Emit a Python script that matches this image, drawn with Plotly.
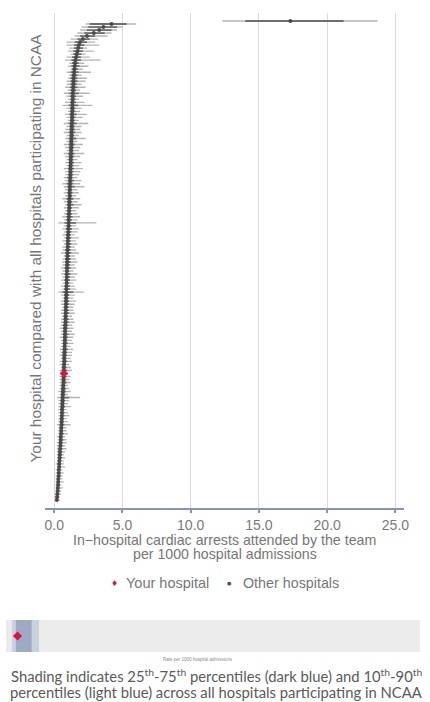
import plotly.graph_objects as go

# ---------------- data ----------------
# hospitals sorted from highest to lowest rate (top to bottom)
rate = [17.3, 4.2, 3.6, 3.3, 2.9, 2.4, 2.1, 1.9, 1.8,
        1.75, 1.70, 1.65, 1.60, 1.55, 1.52, 1.50, 1.48, 1.46, 1.44, 1.42, 1.41,
        1.40, 1.39, 1.38, 1.37, 1.36, 1.35, 1.34, 1.34, 1.33, 1.32, 1.31, 1.31, 1.30, 1.29, 1.29,
        1.28, 1.27, 1.27, 1.26, 1.25, 1.25, 1.24, 1.23, 1.23, 1.22, 1.21, 1.21, 1.20, 1.19, 1.19,
        1.18, 1.17, 1.16, 1.16, 1.15, 1.14, 1.13, 1.13, 1.12, 1.11, 1.10, 1.10, 1.09, 1.08, 1.07,
        1.06, 1.06, 1.05, 1.04, 1.03, 1.02, 1.01, 1.00, 0.99, 0.99, 0.98, 0.97, 0.96, 0.96, 0.95,
        0.94, 0.94, 0.93, 0.92, 0.92, 0.91, 0.91, 0.90, 0.89, 0.89, 0.88, 0.87, 0.87, 0.86, 0.85,
        0.85, 0.84, 0.83, 0.83, 0.82, 0.81, 0.80, 0.80, 0.79, 0.78, 0.78, 0.77, 0.76, 0.76, 0.75,
        0.74, 0.73, 0.73, 0.72, 0.71, 0.70, 0.70, 0.69, 0.68, 0.67, 0.66, 0.65, 0.64, 0.63, 0.62,
        0.61, 0.60, 0.59, 0.58, 0.57, 0.56, 0.55, 0.54, 0.53, 0.52, 0.51, 0.50, 0.48, 0.47, 0.46,
        0.45, 0.43, 0.42, 0.41, 0.40, 0.38, 0.37, 0.36, 0.34, 0.33, 0.32, 0.30, 0.29, 0.28, 0.26,
        0.25, 0.23, 0.21, 0.19]

# outer (light) interval
ci_low = [12.3, 2.3, 2.0, 1.9, 1.7, 1.5, 1.2, 0.9, 0.9,
          1.1, 1.0, 1.2, 0.9, 0.8, 1.1, 1.0, 1.2, 0.9, 1.1, 1.0, 0.9,
          0.9, 0.8, 1.0, 0.7, 0.9, 1.0, 0.8, 0.6, 0.9, 1.0, 0.8, 0.9, 1.0, 0.7, 0.9,
          0.8, 0.7, 0.9, 0.8, 0.9, 0.7, 0.8, 0.9, 0.7, 0.8, 0.9, 0.8, 0.9, 0.7, 0.8,
          0.8, 0.7, 0.8, 0.6, 0.7, 0.8, 0.7, 0.8, 0.6, 0.7, 0.8, 0.7, 0.8, 0.7, 0.6,
          0.7, 0.3, 0.7, 0.6, 0.7, 0.6, 0.7, 0.6, 0.7, 0.6, 0.6, 0.5, 0.7, 0.6, 0.6,
          0.6, 0.5, 0.6, 0.5, 0.6, 0.5, 0.6, 0.5, 0.6, 0.3, 0.5, 0.6, 0.5, 0.5, 0.6,
          0.5, 0.5, 0.6, 0.5, 0.5, 0.5, 0.4, 0.5, 0.5, 0.4, 0.5, 0.5, 0.5, 0.4, 0.5,
          0.4, 0.5, 0.4, 0.4, 0.5, 0.4, 0.45, 0.4, 0.4, 0.4, 0.4, 0.4, 0.3, 0.4, 0.2,
          0.3, 0.3, 0.3, 0.3, 0.3, 0.3, 0.3, 0.3, 0.2, 0.3, 0.3, 0.3, 0.2, 0.3, 0.2,
          0.2, 0.2, 0.2, 0.2, 0.2, 0.2, 0.1, 0.2, 0.1, 0.1, 0.1, 0.1, 0.1, 0.1, 0.1,
          0.1, 0.05, 0.05, 0.05]
ci_high = [23.7, 6.0, 5.0, 4.6, 4.2, 3.9, 3.2, 3.0, 3.3,
           2.4, 2.9, 2.3, 2.6, 3.4, 2.2, 2.5, 2.1, 2.7, 2.0, 2.4, 2.3,
           2.0, 2.3, 1.9, 2.6, 2.1, 1.8, 2.2, 2.8, 2.0, 1.9, 2.4, 2.1, 1.8, 2.5, 2.0,
           1.9, 2.0, 1.8, 2.3, 1.7, 2.1, 1.9, 1.8, 2.2, 1.9, 1.7, 2.0, 1.8, 2.1, 1.9,
           1.8, 1.7, 2.0, 1.9, 2.2, 1.7, 1.8, 1.6, 1.9, 1.7, 2.0, 1.8, 1.6, 1.7, 1.9,
           1.7, 3.1, 1.6, 1.8, 1.7, 1.5, 1.8, 1.6, 1.7, 1.5, 1.6, 1.8, 1.5, 1.6, 1.7,
           1.5, 1.6, 1.4, 1.7, 1.5, 1.6, 1.4, 1.5, 1.6, 2.2, 1.5, 1.4, 1.6, 1.5, 1.4,
           1.4, 1.5, 1.3, 1.4, 1.5, 1.3, 1.4, 1.3, 1.5, 1.4, 1.3, 1.4, 1.2, 1.4, 1.3,
           1.3, 1.2, 1.3, 1.1, 1.2, 1.3, 1.0, 1.2, 1.1, 1.2, 1.0, 1.1, 1.2, 1.0, 1.9,
           1.1, 1.0, 1.2, 0.9, 1.0, 1.1, 0.9, 1.0, 1.2, 0.9, 0.9, 1.0, 0.8, 0.9, 0.9,
           0.8, 0.9, 0.8, 0.7, 0.8, 0.7, 0.7, 0.8, 0.6, 0.7, 0.6, 0.6, 0.7, 0.5, 0.6,
           0.5, 0.5, 0.4, 0.4]

# inner (dark) interval
inner_low = [14.0, 2.6, 2.5, 2.4, 2.2, 1.9, 1.7, 1.5, 1.45,
             1.45, 1.4, 1.4, 1.3, 1.25, 1.3, 1.25, 1.3, 1.2, 1.25, 1.2, 1.2,
             1.2, 1.15, 1.2, 1.1, 1.15, 1.2, 1.15, 1.05, 1.15, 1.15, 1.1, 1.15, 1.15, 1.05, 1.1,
             1.1, 1.05, 1.1, 1.05, 1.1, 1.05, 1.05, 1.1, 1.0, 1.05, 1.05, 1.05, 1.05, 1.0, 1.0,
             1.0, 0.95, 1.0, 0.9, 0.95, 1.0, 0.95, 1.0, 0.9, 0.95, 0.95, 0.95, 0.95, 0.9, 0.9,
             0.9, 0.75, 0.9, 0.85, 0.9, 0.85, 0.85, 0.85, 0.85, 0.85, 0.8, 0.8, 0.85, 0.8, 0.8,
             0.8, 0.75, 0.8, 0.75, 0.8, 0.75, 0.8, 0.75, 0.75, 0.6, 0.75, 0.75, 0.7, 0.7, 0.75,
             0.7, 0.7, 0.7, 0.7, 0.7, 0.65, 0.65, 0.65, 0.65, 0.65, 0.65, 0.65, 0.65, 0.6, 0.6,
             0.6, 0.6, 0.6, 0.6, 0.6, 0.55, 0.55, 0.55, 0.55, 0.55, 0.55, 0.5, 0.5, 0.5, 0.45,
             0.45, 0.45, 0.45, 0.45, 0.45, 0.45, 0.4, 0.4, 0.4, 0.4, 0.4, 0.4, 0.35, 0.35, 0.35,
             0.35, 0.3, 0.3, 0.3, 0.3, 0.3, 0.25, 0.25, 0.25, 0.25, 0.2, 0.2, 0.2, 0.2, 0.15,
             0.15, 0.15, 0.12, 0.1]
inner_high = [21.2, 5.3, 4.6, 4.2, 3.7, 3.0, 2.6, 2.4, 2.2,
              2.1, 2.1, 2.0, 1.95, 1.95, 1.8, 1.85, 1.75, 1.8, 1.7, 1.7, 1.7,
              1.65, 1.7, 1.6, 1.8, 1.6, 1.55, 1.6, 1.75, 1.55, 1.55, 1.65, 1.55, 1.5, 1.65, 1.5,
              1.5, 1.55, 1.45, 1.6, 1.4, 1.5, 1.45, 1.4, 1.5, 1.45, 1.4, 1.45, 1.4, 1.45, 1.4,
              1.4, 1.35, 1.45, 1.4, 1.5, 1.3, 1.35, 1.3, 1.4, 1.3, 1.4, 1.3, 1.25, 1.3, 1.35,
              1.3, 1.6, 1.25, 1.3, 1.25, 1.2, 1.25, 1.2, 1.25, 1.2, 1.2, 1.25, 1.15, 1.2, 1.2,
              1.15, 1.2, 1.1, 1.2, 1.15, 1.15, 1.1, 1.15, 1.15, 1.4, 1.1, 1.05, 1.1, 1.1, 1.05,
              1.05, 1.1, 1.0, 1.05, 1.05, 1.0, 1.0, 0.95, 1.05, 1.0, 0.95, 1.0, 0.9, 1.0, 0.95,
              0.95, 0.9, 0.95, 0.85, 0.9, 0.95, 0.85, 0.9, 0.85, 0.9, 0.8, 0.85, 0.85, 0.8, 1.1,
              0.8, 0.75, 0.8, 0.7, 0.75, 0.75, 0.7, 0.7, 0.75, 0.65, 0.65, 0.7, 0.6, 0.65, 0.6,
              0.6, 0.6, 0.55, 0.55, 0.55, 0.5, 0.5, 0.5, 0.45, 0.45, 0.45, 0.4, 0.4, 0.4, 0.35,
              0.35, 0.3, 0.3, 0.28]

your_index = 117  # position of "Your hospital" in the ranking

# percentiles across all hospitals (bottom strip)
pct_10, pct_25, pct_75, pct_90 = 0.36, 0.60, 1.55, 2.00

x_tick_values = [0, 5, 10, 15, 20, 25]
x_tick_labels = ["0.0", "5.0", "10.0", "15.0", "20.0", "25.0"]

for lst in (ci_low, ci_high, inner_low, inner_high):
    assert len(lst) == len(rate)

# ---------------- figure ----------------
W, H = 430, 702
FONT = "Liberation Sans, Arial, sans-serif"
GRAY_TXT = "#767676"
RED = "#e0103c"


def px(x):
    return x / W


def py(y):
    return 1 - y / H


others = [i for i in range(len(rate)) if i != your_index]


def seg(idx, lo, hi):
    xs, ys = [], []
    for i in idx:
        xs += [lo[i], hi[i], None]
        ys += [i, i, None]
    return xs, ys


fig = go.Figure()

lx, ly = seg(others, ci_low, ci_high)
fig.add_trace(go.Scatter(x=lx, y=ly, mode="lines", line=dict(color="#b4b4b4", width=1.4),
                         hoverinfo="skip", showlegend=False))
dx, dy = seg(others, inner_low, inner_high)
fig.add_trace(go.Scatter(x=dx, y=dy, mode="lines", line=dict(color="#6e6e6e", width=1.8),
                         hoverinfo="skip", showlegend=False))
fig.add_trace(go.Scatter(x=[rate[i] for i in others], y=others, mode="markers",
                         marker=dict(color="#4a4a4a", size=4), name="Other hospitals",
                         showlegend=False))

ylx, yly = seg([your_index], ci_low, ci_high)
fig.add_trace(go.Scatter(x=ylx, y=yly, mode="lines", line=dict(color=RED, width=2),
                         hoverinfo="skip", showlegend=False))
fig.add_trace(go.Scatter(x=[rate[your_index]], y=[your_index], mode="markers",
                         marker=dict(color=RED, size=6, symbol="diamond"),
                         name="Your hospital", showlegend=False))

# bottom strip: your hospital position
fig.add_trace(go.Scatter(x=[rate[your_index]], y=[0.5], xaxis="x2", yaxis="y2",
                         mode="markers", marker=dict(color=RED, size=7, symbol="diamond"),
                         showlegend=False, hoverinfo="skip"))

n = len(rate)
step = 479 / (n - 1)
y_top = -(21 - 13) / step
y_bot = (n - 1) + (508 - 500) / step
scale = 13.86
x_lo = -(54 - 45) / scale
x_hi = 25 + (409 - 400) / scale

fig.update_layout(
    width=W, height=H,
    margin=dict(l=0, r=0, t=0, b=0),
    paper_bgcolor="white", plot_bgcolor="white",
    font=dict(family=FONT, color=GRAY_TXT),
    xaxis=dict(domain=[px(45), px(409)], range=[x_lo, x_hi], anchor="y",
               tickvals=x_tick_values, ticktext=x_tick_labels,
               tickfont=dict(size=14, color="#7a7a7a"),
               showgrid=True, gridcolor="#dadada", gridwidth=1, zeroline=False,
               showline=True, linecolor="#8494ba", linewidth=2,
               ticks="outside", ticklen=3, tickwidth=1.5, tickcolor="#8494ba"),
    yaxis=dict(domain=[py(508), py(13)], range=[y_bot, y_top], visible=False),
    xaxis2=dict(domain=[px(5), px(425)], range=[0, 25], anchor="y2", visible=False),
    yaxis2=dict(domain=[py(652), py(620)], range=[0, 1], visible=False),
    shapes=[
        dict(type="rect", xref="x2 domain", yref="y2 domain", x0=0, x1=1, y0=0, y1=1,
             fillcolor="#ebebeb", line=dict(width=0), layer="below"),
        dict(type="rect", xref="x2", yref="y2 domain", x0=pct_10, x1=pct_90, y0=0, y1=1,
             fillcolor="#c9d1df", line=dict(width=0), layer="below"),
        dict(type="rect", xref="x2", yref="y2 domain", x0=pct_25, x1=pct_75, y0=0, y1=1,
             fillcolor="#9eaac3", line=dict(width=0), layer="below"),
    ],
)


def label(x, y, text, size, color=GRAY_TXT, xanchor="center", family=None, angle=0):
    f = dict(size=size, color=color)
    if family:
        f["family"] = family
    return dict(x=px(x), y=py(y), xref="paper", yref="paper", text=text,
                showarrow=False, xanchor=xanchor, yanchor="middle",
                textangle=angle, font=f)


ann = [
    label(35, 248, "Your hospital compared with all hospitals participating in NCAA", 15.4, angle=-90),
    label(227, 540, "In\u2212hospital cardiac arrests attended by the team", 14.2),
    label(227, 554, "per 1000 hospital admissions", 14.2),
    label(115, 583, "\u2666", 8, color=RED, family="DejaVu Sans"),
    label(125, 583, "Your hospital", 14.5, xanchor="left"),
    label(232, 583, "\u25cf", 5, color="#505050", family="DejaVu Sans"),
    label(243, 583, "Other hospitals", 14.3, xanchor="left"),
    label(200, 659, "Rate per 1000 hospital admissions", 4.5, color="#8a8a8a"),
    label(219, 675, "Shading indicates 25<sup>th</sup>-75<sup>th</sup> percentiles (dark blue) and 10<sup>th</sup>-90<sup>th</sup>",
          14.8, color="#5a5a5a", family="Lato, Open Sans, sans-serif"),
    label(218, 692, "percentiles (light blue) across all hospitals participating in NCAA",
          14.8, color="#5a5a5a", family="Lato, Open Sans, sans-serif"),
]
fig.update_layout(annotations=ann)

fig.write_html("out.html", config={"displayModeBar": False},
               post_script="document.body.style.margin='0';document.body.style.padding='0';")
